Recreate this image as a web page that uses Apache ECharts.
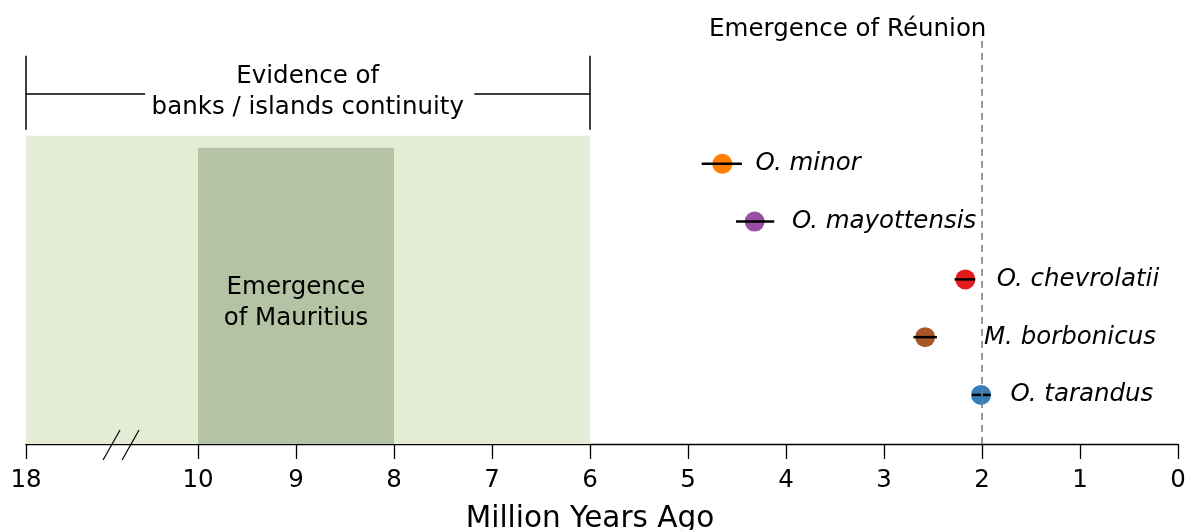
<!DOCTYPE html>
<html>
<head>
<meta charset="utf-8">
<style>
  html, body { margin: 0; padding: 0; background: #fff; }
  #chart { width: 1189px; height: 530px; }
</style>
<script src="https://cdn.jsdelivr.net/npm/echarts@6/dist/echarts.min.js"></script>
</head>
<body>
<div id="chart"></div>
<script>
// species, ages (million years ago) and error bars
const species = ['O. minor', 'O. mayottensis', 'O. chevrolatii', 'M. borbonicus', 'O. tarandus']
const ages = [4.65, 4.32, 2.17, 2.58, 2.01]
const ageLow = [4.45, 4.12, 2.07, 2.46, 1.91]
const ageHigh = [4.86, 4.51, 2.28, 2.70, 2.10]
const rows = [5, 4, 3, 2, 1]
const labelAges = [4.31, 3.94, 1.85, 1.98, 1.71]
const colors = ['#ff7f00', '#984ea3', '#e41a1c', '#a65628', '#377eb8']

const tickYears = [0, 1, 2, 3, 4, 5, 6, 7, 8, 9, 10, 18]
const continuity = [18, 6]
const mauritius = [10, 8]
const reunion = 2

// broken axis: 10..18 squeezed into a short gap
const BREAK = 10
const GAP = 1.755
function toAxis (v) {
  return v <= BREAK ? v : BREAK + (v - BREAK) * GAP / 8
}
function fromAxis (u) {
  return u <= BREAK + 0.01 ? Math.round(u) : 18
}

const YMIN = 0.15
const YMAX = 7.56
const FONT = '"DejaVu Sans", sans-serif'
const FS = 24.5

const chart = echarts.init(document.getElementById('chart'))

const option = {
  animation: false,
  textStyle: { fontFamily: FONT },
  grid: { left: 26, right: 11, top: 16, bottom: 86, outerBoundsMode: 'none', containLabel: false },
  xAxis: {
    type: 'value',
    inverse: true,
    min: 0,
    max: toAxis(18),
    name: 'Million Years Ago',
    nameLocation: 'middle',
    nameGap: 60,
    nameTextStyle: { fontSize: 29.5, color: '#000', fontFamily: FONT, padding: [0, 24, 0, 0] },
    splitLine: { show: false },
    axisLine: { lineStyle: { color: '#000', width: 1.3 } },
    axisTick: {
      inside: false,
      length: 15,
      lineStyle: { color: '#000', width: 1.3 },
      customValues: tickYears.map(toAxis)
    },
    axisLabel: {
      margin: 24,
      fontSize: FS,
      color: '#000',
      fontFamily: FONT,
      customValues: tickYears.map(toAxis),
      formatter: function (u) { return String(fromAxis(u)) }
    }
  },
  yAxis: {
    type: 'value',
    show: false,
    min: YMIN,
    max: YMAX
  },
  series: [
    {
      // shaded periods + Réunion line
      type: 'line',
      data: [],
      silent: true,
      markArea: {
        silent: true,
        data: [
          [
            { coord: [toAxis(continuity[0]), YMIN], itemStyle: { color: '#e4ecd6', opacity: 1 } },
            { coord: [toAxis(continuity[1]), 5.485] }
          ],
          [
            { coord: [toAxis(mauritius[0]), YMIN], itemStyle: { color: '#b4c3a3', opacity: 1 } },
            { coord: [toAxis(mauritius[1]), 5.277] }
          ]
        ]
      },
      markLine: {
        silent: true,
        symbol: ['none', 'none'],
        label: { show: false },
        data: [
          [
            { coord: [reunion, YMIN], lineStyle: { color: '#808080', type: [7, 5], width: 1.6, opacity: 1 } },
            { coord: [reunion, 7.2] }
          ],
          // bracket
          [
            { coord: [toAxis(continuity[0]), 5.59], lineStyle: { color: '#000', type: 'solid', width: 1.5, opacity: 1 } },
            { coord: [toAxis(continuity[0]), 6.87] }
          ],
          [
            { coord: [toAxis(continuity[1]), 5.59], lineStyle: { color: '#000', type: 'solid', width: 1.5, opacity: 1 } },
            { coord: [toAxis(continuity[1]), 6.87] }
          ],
          [
            { coord: [toAxis(continuity[0]), 6.212], lineStyle: { color: '#000', type: 'solid', width: 1.5, opacity: 1 } },
            { coord: [10.54, 6.212] }
          ],
          [
            { coord: [7.18, 6.212], lineStyle: { color: '#000', type: 'solid', width: 1.5, opacity: 1 } },
            { coord: [toAxis(continuity[1]), 6.212] }
          ]
        ]
      }
    },
    {
      // text annotations
      type: 'scatter',
      symbolSize: 0,
      silent: true,
      clip: false,
      itemStyle: { opacity: 1 },
      label: {
        show: true,
        position: 'inside',
        color: '#000',
        opacity: 1,
        fontSize: FS,
        lineHeight: 31,
        align: 'center',
        fontFamily: FONT,
        formatter: function (p) { return p.data.text }
      },
      data: [
        { value: [8.88, 6.25], text: 'Evidence of\nbanks / islands continuity' },
        { value: [9, 2.584], text: 'Emergence\nof Mauritius' },
        { value: [3.37, 7.32], text: 'Emergence of Réunion' }
      ]
    },
    {
      // species dates with error bars
      type: 'custom',
      silent: true,
      renderItem: function (params, api) {
        const i = params.dataIndex
        const c = api.coord([ages[i], rows[i]])
        const lo = api.coord([ageLow[i], rows[i]])
        const hi = api.coord([ageHigh[i], rows[i]])
        return {
          type: 'group',
          children: [
            {
              type: 'circle',
              shape: { cx: c[0], cy: c[1], r: 10 },
              style: { fill: colors[i] }
            },
            {
              type: 'line',
              shape: { x1: lo[0], y1: lo[1], x2: hi[0], y2: hi[1] },
              style: { stroke: '#000', lineWidth: 2.5 }
            }
          ]
        }
      },
      data: ages.map((a, i) => [a, rows[i]])
    },
    {
      // species names
      type: 'scatter',
      symbolSize: 0,
      silent: true,
      itemStyle: { opacity: 1 },
      label: {
        show: true,
        position: 'right',
        distance: 0,
        color: '#000',
        opacity: 1,
        fontSize: FS,
        fontStyle: 'italic',
        fontFamily: FONT,
        formatter: function (p) { return species[p.dataIndex] }
      },
      data: labelAges.map((a, i) => [a, rows[i]])
    }
  ]
}

chart.setOption(option)

// axis break marks
const bc = chart.convertToPixel({ gridIndex: 0 }, [10.785, YMIN])
chart.setOption({
  graphic: [
    {
      type: 'line', silent: true, z: 100,
      shape: { x1: bc[0] - 18, y1: bc[1] + 16, x2: bc[0] - 1, y2: bc[1] - 14 },
      style: { stroke: '#000', lineWidth: 1.2 }
    },
    {
      type: 'line', silent: true, z: 100,
      shape: { x1: bc[0] + 1, y1: bc[1] + 16, x2: bc[0] + 18, y2: bc[1] - 14 },
      style: { stroke: '#000', lineWidth: 1.2 }
    }
  ]
})
</script>
</body>
</html>
